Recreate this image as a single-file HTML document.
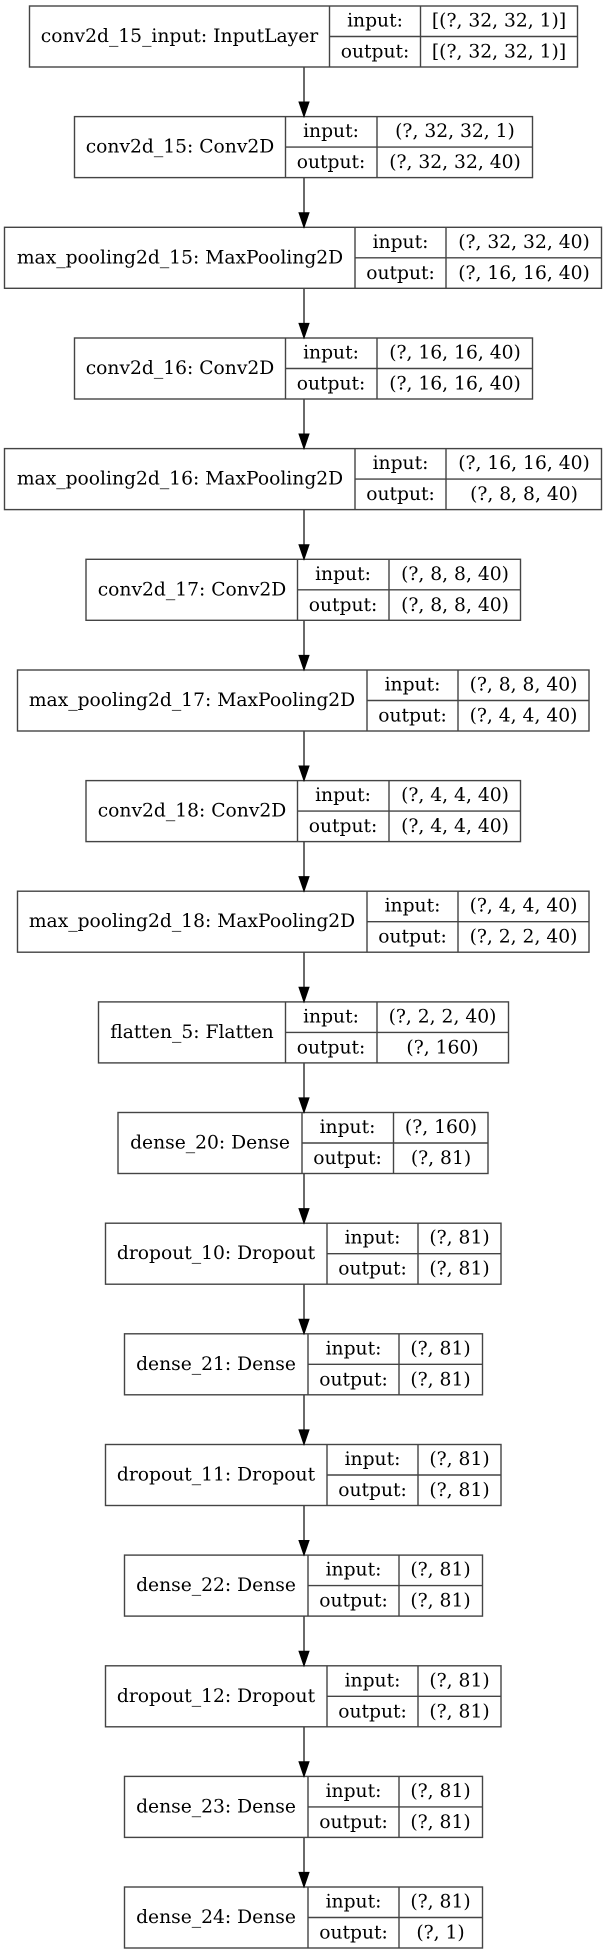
<!DOCTYPE html>
<html><head><meta charset="utf-8"><style>
html,body{margin:0;padding:0;background:#fff;}
svg{display:block;}
text{font-family:"DejaVu Serif","Liberation Serif",serif;font-size:18.7px;fill:#000;text-anchor:middle;dominant-baseline:central;}
rect,line.d{fill:none;stroke:#444;stroke-width:1.4;}
line.e{stroke:#444;stroke-width:1.6;}
polygon{fill:#000;stroke:#000;stroke-width:1;}
</style></head><body>
<svg width="604" height="1955" viewBox="0 0 604 1955" xmlns="http://www.w3.org/2000/svg">
<rect x="29.5" y="6" width="548" height="61"/><line class="d" x1="329.5" y1="6" x2="329.5" y2="67"/><line class="d" x1="420.5" y1="6" x2="420.5" y2="67"/><line class="d" x1="329.5" y1="36.5" x2="577.5" y2="36.5"/>
<text x="179.5" y="36.5">conv2d_15_input: InputLayer</text><text x="375" y="21">input:</text><text x="375" y="52">output:</text><text x="499" y="21">[(?, 32, 32, 1)]</text><text x="499" y="52">[(?, 32, 32, 1)]</text>
<rect x="74.5" y="116.6" width="458" height="61"/><line class="d" x1="285.5" y1="116.6" x2="285.5" y2="177.6"/><line class="d" x1="377" y1="116.6" x2="377" y2="177.6"/><line class="d" x1="285.5" y1="147.1" x2="532.5" y2="147.1"/>
<text x="180" y="147.1">conv2d_15: Conv2D</text><text x="331" y="131.6">input:</text><text x="331" y="162.6">output:</text><text x="455" y="131.6">(?, 32, 32, 1)</text><text x="455" y="162.6">(?, 32, 32, 40)</text>
<rect x="4.5" y="227.3" width="597" height="61"/><line class="d" x1="355" y1="227.3" x2="355" y2="288.3"/><line class="d" x1="446" y1="227.3" x2="446" y2="288.3"/><line class="d" x1="355" y1="257.8" x2="601.5" y2="257.8"/>
<text x="180" y="257.8">max_pooling2d_15: MaxPooling2D</text><text x="400.5" y="242.3">input:</text><text x="400.5" y="273.3">output:</text><text x="524" y="242.3">(?, 32, 32, 40)</text><text x="524" y="273.3">(?, 16, 16, 40)</text>
<rect x="74.5" y="338" width="458" height="61"/><line class="d" x1="285.5" y1="338" x2="285.5" y2="399"/><line class="d" x1="377" y1="338" x2="377" y2="399"/><line class="d" x1="285.5" y1="368.5" x2="532.5" y2="368.5"/>
<text x="180" y="368.5">conv2d_16: Conv2D</text><text x="331" y="353">input:</text><text x="331" y="384">output:</text><text x="455" y="353">(?, 16, 16, 40)</text><text x="455" y="384">(?, 16, 16, 40)</text>
<rect x="4.5" y="448.6" width="597" height="61"/><line class="d" x1="355" y1="448.6" x2="355" y2="509.6"/><line class="d" x1="446" y1="448.6" x2="446" y2="509.6"/><line class="d" x1="355" y1="479.1" x2="601.5" y2="479.1"/>
<text x="180" y="479.1">max_pooling2d_16: MaxPooling2D</text><text x="400.5" y="463.6">input:</text><text x="400.5" y="494.6">output:</text><text x="524" y="463.6">(?, 16, 16, 40)</text><text x="524" y="494.6">(?, 8, 8, 40)</text>
<rect x="86" y="559.3" width="434.5" height="61"/><line class="d" x1="297.5" y1="559.3" x2="297.5" y2="620.3"/><line class="d" x1="389" y1="559.3" x2="389" y2="620.3"/><line class="d" x1="297.5" y1="589.8" x2="520.5" y2="589.8"/>
<text x="192" y="589.8">conv2d_17: Conv2D</text><text x="343" y="574.3">input:</text><text x="343" y="605.3">output:</text><text x="455" y="574.3">(?, 8, 8, 40)</text><text x="455" y="605.3">(?, 8, 8, 40)</text>
<rect x="17.5" y="670" width="571.5" height="61"/><line class="d" x1="367" y1="670" x2="367" y2="731"/><line class="d" x1="458" y1="670" x2="458" y2="731"/><line class="d" x1="367" y1="700.5" x2="589" y2="700.5"/>
<text x="192" y="700.5">max_pooling2d_17: MaxPooling2D</text><text x="412.5" y="685">input:</text><text x="412.5" y="716">output:</text><text x="523.5" y="685">(?, 8, 8, 40)</text><text x="523.5" y="716">(?, 4, 4, 40)</text>
<rect x="86" y="780.6" width="434.5" height="61"/><line class="d" x1="297.5" y1="780.6" x2="297.5" y2="841.6"/><line class="d" x1="389" y1="780.6" x2="389" y2="841.6"/><line class="d" x1="297.5" y1="811.1" x2="520.5" y2="811.1"/>
<text x="192" y="811.1">conv2d_18: Conv2D</text><text x="343" y="795.6">input:</text><text x="343" y="826.6">output:</text><text x="455" y="795.6">(?, 4, 4, 40)</text><text x="455" y="826.6">(?, 4, 4, 40)</text>
<rect x="17.5" y="891.2" width="571.5" height="61"/><line class="d" x1="367" y1="891.2" x2="367" y2="952.2"/><line class="d" x1="458" y1="891.2" x2="458" y2="952.2"/><line class="d" x1="367" y1="921.7" x2="589" y2="921.7"/>
<text x="192" y="921.7">max_pooling2d_18: MaxPooling2D</text><text x="412.5" y="906.2">input:</text><text x="412.5" y="937.2">output:</text><text x="523.5" y="906.2">(?, 4, 4, 40)</text><text x="523.5" y="937.2">(?, 2, 2, 40)</text>
<rect x="98.5" y="1001.9" width="410" height="61"/><line class="d" x1="285.5" y1="1001.9" x2="285.5" y2="1062.9"/><line class="d" x1="377" y1="1001.9" x2="377" y2="1062.9"/><line class="d" x1="285.5" y1="1032.4" x2="508.5" y2="1032.4"/>
<text x="192" y="1032.4">flatten_5: Flatten</text><text x="331" y="1016.9">input:</text><text x="331" y="1047.9">output:</text><text x="442.5" y="1016.9">(?, 2, 2, 40)</text><text x="442.5" y="1047.9">(?, 160)</text>
<rect x="118" y="1112.5" width="370" height="61"/><line class="d" x1="302" y1="1112.5" x2="302" y2="1173.5"/><line class="d" x1="393.5" y1="1112.5" x2="393.5" y2="1173.5"/><line class="d" x1="302" y1="1143" x2="488" y2="1143"/>
<text x="210" y="1143">dense_20: Dense</text><text x="347.5" y="1127.5">input:</text><text x="347.5" y="1158.5">output:</text><text x="441" y="1127.5">(?, 160)</text><text x="441" y="1158.5">(?, 81)</text>
<rect x="105.5" y="1223.2" width="395.5" height="61"/><line class="d" x1="327" y1="1223.2" x2="327" y2="1284.2"/><line class="d" x1="418" y1="1223.2" x2="418" y2="1284.2"/><line class="d" x1="327" y1="1253.7" x2="501" y2="1253.7"/>
<text x="216" y="1253.7">dropout_10: Dropout</text><text x="372.5" y="1238.2">input:</text><text x="372.5" y="1269.2">output:</text><text x="459.5" y="1238.2">(?, 81)</text><text x="459.5" y="1269.2">(?, 81)</text>
<rect x="124.5" y="1333.8" width="358" height="61"/><line class="d" x1="308" y1="1333.8" x2="308" y2="1394.8"/><line class="d" x1="399" y1="1333.8" x2="399" y2="1394.8"/><line class="d" x1="308" y1="1364.3" x2="482.5" y2="1364.3"/>
<text x="216" y="1364.3">dense_21: Dense</text><text x="353.5" y="1348.8">input:</text><text x="353.5" y="1379.8">output:</text><text x="440.5" y="1348.8">(?, 81)</text><text x="440.5" y="1379.8">(?, 81)</text>
<rect x="105.5" y="1444.5" width="395.5" height="61"/><line class="d" x1="327" y1="1444.5" x2="327" y2="1505.5"/><line class="d" x1="418" y1="1444.5" x2="418" y2="1505.5"/><line class="d" x1="327" y1="1475" x2="501" y2="1475"/>
<text x="216" y="1475">dropout_11: Dropout</text><text x="372.5" y="1459.5">input:</text><text x="372.5" y="1490.5">output:</text><text x="459.5" y="1459.5">(?, 81)</text><text x="459.5" y="1490.5">(?, 81)</text>
<rect x="124.5" y="1555.1" width="358" height="61"/><line class="d" x1="308" y1="1555.1" x2="308" y2="1616.1"/><line class="d" x1="399" y1="1555.1" x2="399" y2="1616.1"/><line class="d" x1="308" y1="1585.6" x2="482.5" y2="1585.6"/>
<text x="216" y="1585.6">dense_22: Dense</text><text x="353.5" y="1570.1">input:</text><text x="353.5" y="1601.1">output:</text><text x="440.5" y="1570.1">(?, 81)</text><text x="440.5" y="1601.1">(?, 81)</text>
<rect x="105.5" y="1665.8" width="395.5" height="61"/><line class="d" x1="327" y1="1665.8" x2="327" y2="1726.8"/><line class="d" x1="418" y1="1665.8" x2="418" y2="1726.8"/><line class="d" x1="327" y1="1696.3" x2="501" y2="1696.3"/>
<text x="216" y="1696.3">dropout_12: Dropout</text><text x="372.5" y="1680.8">input:</text><text x="372.5" y="1711.8">output:</text><text x="459.5" y="1680.8">(?, 81)</text><text x="459.5" y="1711.8">(?, 81)</text>
<rect x="124.5" y="1776.4" width="358" height="61"/><line class="d" x1="308" y1="1776.4" x2="308" y2="1837.4"/><line class="d" x1="399" y1="1776.4" x2="399" y2="1837.4"/><line class="d" x1="308" y1="1806.9" x2="482.5" y2="1806.9"/>
<text x="216" y="1806.9">dense_23: Dense</text><text x="353.5" y="1791.4">input:</text><text x="353.5" y="1822.4">output:</text><text x="440.5" y="1791.4">(?, 81)</text><text x="440.5" y="1822.4">(?, 81)</text>
<rect x="124.5" y="1887" width="358" height="61"/><line class="d" x1="308" y1="1887" x2="308" y2="1948"/><line class="d" x1="399" y1="1887" x2="399" y2="1948"/><line class="d" x1="308" y1="1917.5" x2="482.5" y2="1917.5"/>
<text x="216" y="1917.5">dense_24: Dense</text><text x="353.5" y="1902">input:</text><text x="353.5" y="1933">output:</text><text x="440.5" y="1902">(?, 81)</text><text x="440.5" y="1933">(?, 1)</text>

<line class="e" x1="304" y1="67" x2="304" y2="103"/><polygon points="299,102 309,102 304,116.6"/>
<line class="e" x1="304" y1="177.6" x2="304" y2="214"/><polygon points="299,212.7 309,212.7 304,227.3"/>
<line class="e" x1="304" y1="288.3" x2="304" y2="324"/><polygon points="299,323.4 309,323.4 304,338"/>
<line class="e" x1="304" y1="399" x2="304" y2="435"/><polygon points="299,434 309,434 304,448.6"/>
<line class="e" x1="304" y1="509.6" x2="304" y2="546"/><polygon points="299,544.7 309,544.7 304,559.3"/>
<line class="e" x1="304" y1="620.3" x2="304" y2="656"/><polygon points="299,655.4 309,655.4 304,670"/>
<line class="e" x1="304" y1="731" x2="304" y2="767"/><polygon points="299,766 309,766 304,780.6"/>
<line class="e" x1="304" y1="841.6" x2="304" y2="878"/><polygon points="299,876.6 309,876.6 304,891.2"/>
<line class="e" x1="304" y1="952.2" x2="304" y2="988"/><polygon points="299,987.3 309,987.3 304,1001.9"/>
<line class="e" x1="304" y1="1062.9" x2="304" y2="1099"/><polygon points="299,1097.9 309,1097.9 304,1112.5"/>
<line class="e" x1="304" y1="1173.5" x2="304" y2="1210"/><polygon points="299,1208.6 309,1208.6 304,1223.2"/>
<line class="e" x1="304" y1="1284.2" x2="304" y2="1320"/><polygon points="299,1319.2 309,1319.2 304,1333.8"/>
<line class="e" x1="304" y1="1394.8" x2="304" y2="1431"/><polygon points="299,1429.9 309,1429.9 304,1444.5"/>
<line class="e" x1="304" y1="1505.5" x2="304" y2="1541"/><polygon points="299,1540.5 309,1540.5 304,1555.1"/>
<line class="e" x1="304" y1="1616.1" x2="304" y2="1652"/><polygon points="299,1651.2 309,1651.2 304,1665.8"/>
<line class="e" x1="304" y1="1726.8" x2="304" y2="1763"/><polygon points="299,1761.8 309,1761.8 304,1776.4"/>
<line class="e" x1="304" y1="1837.4" x2="304" y2="1873"/><polygon points="299,1872.4 309,1872.4 304,1887"/>
</svg>
</body></html>
